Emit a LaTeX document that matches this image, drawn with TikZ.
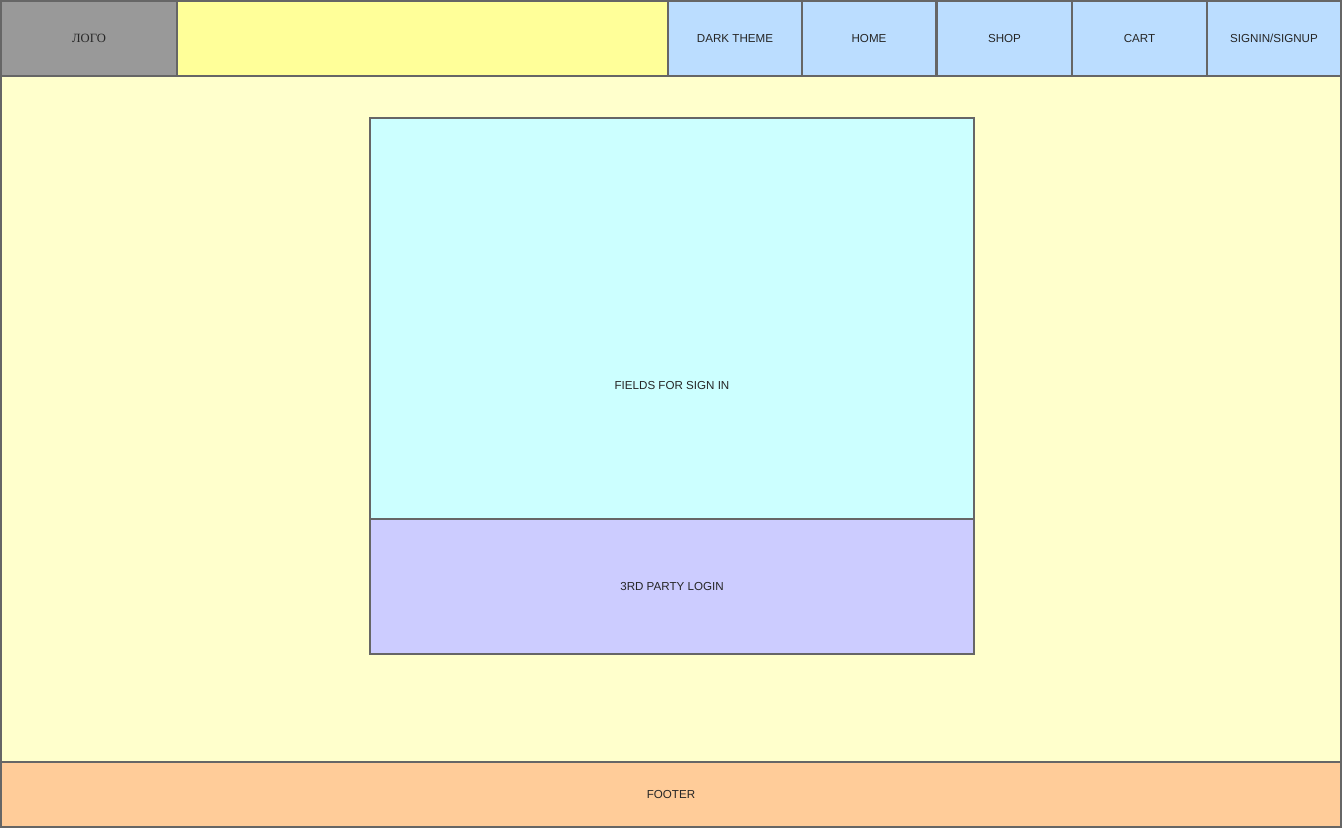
\documentclass[tikz,border=0pt]{standalone}
\usepackage{fontspec}
\setmainfont{Liberation Sans}
\newfontfamily\logofont{Liberation Serif}
\begin{document}
\begin{tikzpicture}[x=1pt,y=-1pt,
  box/.style={draw=frame, line width=2.6pt, anchor=north west, inner sep=0pt, outer sep=0pt,
    font=\fontsize{11.6}{13}\selectfont, text=black!85},
  inbox/.style={box, line width=1.6pt},
  caption/.style={inner sep=0pt, font=\fontsize{11.6}{13}\selectfont, text=black!85}]
\definecolor{frame}{HTML}{666666}
\definecolor{logogray}{HTML}{999999}
\definecolor{barYellow}{HTML}{FFFF99}
\definecolor{navBlue}{HTML}{BBDDFF}
\definecolor{pageCream}{HTML}{FFFFCC}
\definecolor{footOrange}{HTML}{FFCC99}
\definecolor{fieldCyan}{HTML}{CCFFFF}
\definecolor{loginLilac}{HTML}{CCCCFF}
\useasboundingbox (0,0) rectangle (1342,828);
% page body and footer
\node[box, fill=pageCream, minimum width=1340pt, minimum height=686pt] (page) at (1,76) {};
\node[box, fill=footOrange, minimum width=1340pt, minimum height=65pt] (footer) at (1,762) {FOOTER};
% header strip
\node[box, fill=logogray, minimum width=176pt, minimum height=75pt, font=\logofont\fontsize{12.6}{14}\selectfont] (logo) at (1,1) {ЛОГО};
\node[box, fill=barYellow, minimum width=491pt, minimum height=75pt] (bar) at (177,1) {};
\node[box, fill=navBlue, minimum width=134pt, minimum height=75pt] (dark) at (668,1) {DARK THEME};
\node[box, fill=navBlue, minimum width=134pt, minimum height=75pt] (home) at (802,1) {HOME};
\node[box, fill=navBlue, minimum width=135pt, minimum height=75pt] (shop) at (937,1) {SHOP};
\node[box, fill=navBlue, minimum width=135pt, minimum height=75pt] (cart) at (1072,1) {CART};
\node[box, fill=navBlue, minimum width=134pt, minimum height=75pt] (sign) at (1207,1) {SIGNIN/SIGNUP};
% sign-in form
\node[inbox, fill=fieldCyan, minimum width=604pt, minimum height=401pt] (fields) at (370,118) {};
\node[caption] (fieldsText) at (672,386) {FIELDS FOR SIGN IN};
\node[inbox, fill=loginLilac, minimum width=604pt, minimum height=135pt] (third) at (370,519) {3RD PARTY LOGIN};
\end{tikzpicture}
\end{document}
